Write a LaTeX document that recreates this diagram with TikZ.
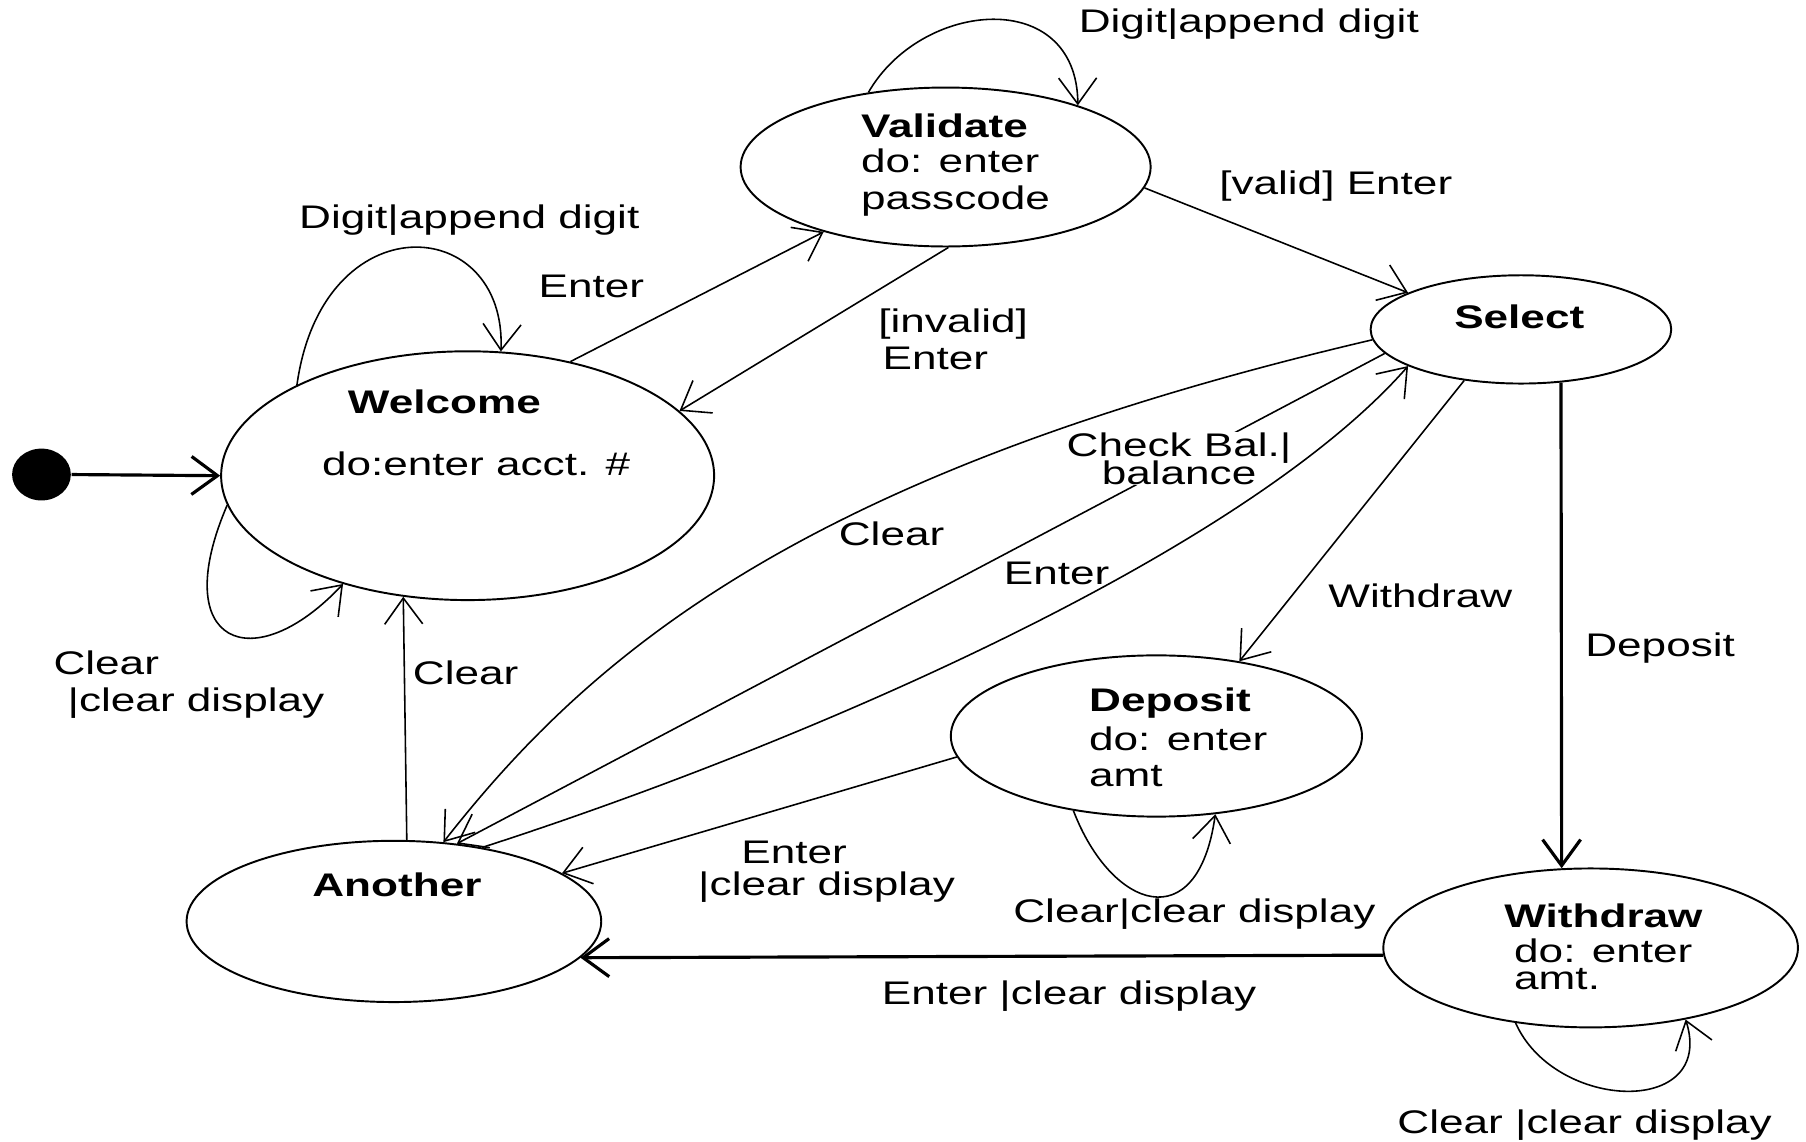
\documentclass[tikz,border=0pt]{standalone}
\usepackage{fontspec}
\setmainfont{Liberation Sans}[FakeStretch=1.35]
\usepackage{tikz}
\usetikzlibrary{arrows.meta,shapes.geometric}
\newcommand{\px}{0.011518cm}
\newcommand{\lblfont}{\fontsize{9.3pt}{10.2pt}\selectfont}

\begin{document}
\begin{tikzpicture}[
  x=0.011518cm, y=-0.011518cm,
  font=\lblfont,
  state/.style={draw,ellipse,line width=0.55pt,inner sep=0pt},
  dot/.style={fill=black,ellipse,inner sep=0pt},
  txt/.style={anchor=base west,inner sep=0pt,align=left},
  lbl/.style={anchor=base west,inner sep=0pt},
  ar/.style={-{Straight Barb[length=2.6mm,width=3.8mm]},line width=0.45pt},
  thk/.style={ar,line width=0.9pt}]
\useasboundingbox (0,0) rectangle (1568,991);

\node[dot,minimum width=51*\px,minimum height=45*\px] (init) at (36,412) {};
\node[state,minimum width=428*\px,minimum height=216*\px] (welcome) at (406,413) {};
\node[state,minimum width=356*\px,minimum height=138*\px] (validate) at (821,145) {};
\node[state,minimum width=261*\px,minimum height=94*\px] (select) at (1320.5,286) {};
\node[state,minimum width=357*\px,minimum height=140*\px] (deposit) at (1004,639) {};
\node[state,minimum width=360*\px,minimum height=138*\px] (withdraw) at (1381,823) {};
\node[state,minimum width=360*\px,minimum height=140*\px] (another) at (342,800) {};

% multi-line texts are placed by the baseline of their last line
\node[txt] (welcomeName) at (301.5,358.8) {\textbf{Welcome}};
\node[txt] (welcomeDo) at (279,412.6) {do:enter acct. \#};
\node[txt] (validateTxt) at (747,182.2) {\textbf{Validate}\\[-0.2pt]do: enter\\[0.3pt]passcode};
\node[txt] (selectName) at (1262,285.2) {\textbf{Select}};
\node[txt] (depositTxt) at (945,682.7) {\textbf{Deposit}\\[0.9pt]do: enter\\[0.1pt]amt};
\node[txt] (withdrawTxt) at (1305.5,859.5) {\textbf{Withdraw}\\[-0.2pt]\hspace*{2.8pt}do: enter\\[-2.3pt]\hspace*{2.8pt}amt.};
\node[txt] (anotherName) at (270.6,778.6) {\textbf{Another}};

\draw[thk] (init.east) -- (welcome.180);
\draw[ar] (welcome.152.1) .. controls (280,175) and (440,185) .. (welcome.75.8);
\draw[ar] (welcome.187.4) .. controls (145,560) and (220,590) .. (welcome.221);
\draw[ar] (welcome.48.7) -- (validate.208.7);
\draw[ar] (validate.272.5) -- (welcome.17.5);
\draw[ar] (validate.136.7) .. controls (800,0) and (935,-12) .. (validate.25.1);
\draw[ar] (validate.354.1) -- (select.162.9);
\draw[ar] (select.184.5) .. controls (700,410) and (515,565) .. (another.58.1);
\draw[ar] (select.190) -- (another.51.5);
\node[lbl,fill=white,align=center] (checkBal) at (925.5,421) {Check Bal.|\\[-2pt]balance};
\draw[ar] (another.40.5) .. controls (700,645) and (1080,480) .. (select.198.1);
\draw[ar] (select.222.2) -- (deposit.42);
\draw[thk] (select.307.3) -- (withdraw.110.8);
\draw[thk] (withdraw.182.6) -- (another.349.1);
\draw[ar] (deposit.186.7) -- (another.16);
\draw[ar] (deposit.222.9) .. controls (965,790) and (1040,815) .. (deposit.307.4);
\draw[ar] (withdraw.225.9) .. controls (1350,965) and (1490,970) .. (withdraw.323.9);
\draw[ar] (another.81.9) -- (welcome.242.7);

\node[lbl] (digitWel) at (259.2,198.4) {Digit|append digit};
\node[lbl] (enterVal) at (467,258.3) {Enter};
\node[lbl,align=left] (invalid) at (762,321) {[invalid]\\[0.35pt]\hspace*{1.2pt}Enter};
\node[lbl] (digitVal) at (936,28) {Digit|append digit};
\node[lbl] (valid) at (1058,168.6) {[valid] Enter};
\node[lbl] (clearSel) at (727.7,473.6) {Clear};
\node[lbl] (enterSel) at (871,507.6) {Enter};
\node[lbl] (withdrawLbl) at (1152.7,527.4) {Withdraw};
\node[lbl] (depositLbl) at (1375.8,570.4) {Deposit};
\node[lbl,align=left] (clearWel) at (45.9,617.4) {Clear\\[0.3pt]\hspace*{4pt}|clear display};
\node[lbl] (clearAno) at (357.9,594.3) {Clear};
\node[lbl,align=left] (enterDep) at (605.6,777.1) {\hspace*{12.3pt}Enter\\[-1.1pt]|clear display};
\node[lbl,fill=white] (clearDep) at (879.2,801) {Clear|clear display};
\node[lbl] (enterWd) at (765,872) {Enter |clear display};
\node[lbl] (clearWd) at (1212.7,983.7) {Clear |clear display};
\end{tikzpicture}
\end{document}
